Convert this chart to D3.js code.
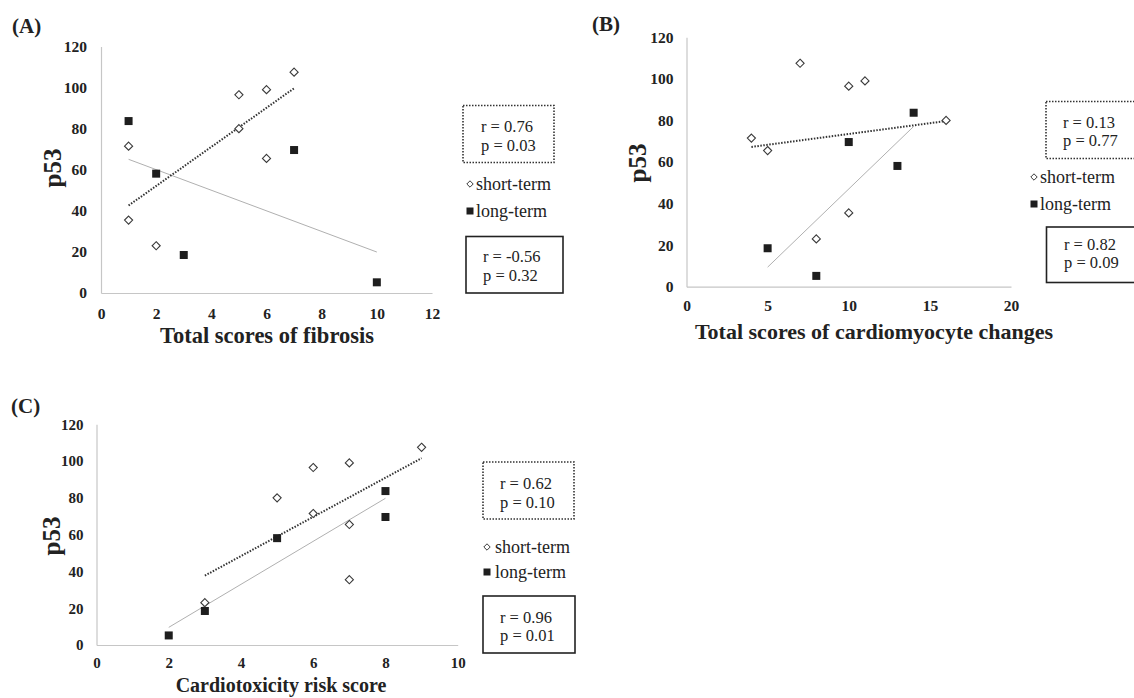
<!DOCTYPE html>
<html>
<head>
<meta charset="utf-8">
<script src="https://cdn.jsdelivr.net/npm/d3@7"></script>
<style>
  body { margin: 0; background: #fff; }
  svg { display: block; font-family: "Liberation Serif", "Times New Roman", serif; }
</style>
</head>
<body>
<svg id="chart" width="1134" height="698"></svg>
<script>
// p53 values of each sample (same samples in all three panels)
const shortP53 = [71.5, 35.5, 23, 96.5, 80, 99, 65.5, 107.5];
const longP53 = [83.7, 58.1, 18.5, 69.6, 5.2];

// x scores per panel
const shortFibrosis = [1, 1, 2, 5, 5, 6, 6, 7];
const longFibrosis = [1, 2, 3, 7, 10];
const shortCardio = [4, 10, 8, 10, 16, 11, 5, 7];
const longCardio = [14, 13, 5, 10, 8];
const shortRisk = [6, 7, 3, 6, 5, 7, 7, 9];
const longRisk = [8, 5, 3, 8, 2];

// correlation labels
const rShort = ["0.76", "0.13", "0.62"];
const pShort = ["0.03", "0.77", "0.10"];
const rLong = ["-0.56", "0.82", "0.96"];
const pLong = ["0.32", "0.09", "0.01"];

const panelNames = ["(A)", "(B)", "(C)"];
const xTitles = ["Total scores of fibrosis", "Total scores of cardiomyocyte changes", "Cardiotoxicity risk score"];
const xMax = [12, 20, 10];
const xStep = [2, 5, 2];
const yTicks = [0, 20, 40, 60, 80, 100, 120];
const legendLabels = ["short-term", "long-term"];

const svg = d3.select("#chart");

// layout of each panel (pixels)
const panels = [
  {
    xs: shortFibrosis, xl: longFibrosis,
    x0: 101, x1: 432, y0: 293, y1: 46.5,
    padX: 14.5, padY: 14, tickFont: 15.5,
    name: { x: 12, y: 33 },
    ylab: { x: 52, y: 168 },
    xlab: { x: 267, y: 343, size: 22.5 },
    dotBox: { x: 463, y: 105.5, w: 91, h: 57, tx: 481, ry: 126, py: 145 },
    leg: { mx: 470, tx: 476, ys: 184, yl: 211 },
    solBox: { x: 466, y: 236.5, w: 97, h: 56.5, tx: 483, ry: 256.5, py: 275 }
  },
  {
    xs: shortCardio, xl: longCardio,
    x0: 686.5, x1: 1011, y0: 286.7, y1: 37.3,
    padX: 13.5, padY: 13, tickFont: 15.5,
    name: { x: 592, y: 31 },
    ylab: { x: 637, y: 163 },
    xlab: { x: 874, y: 339, size: 22 },
    dotBox: { x: 1046, y: 101.5, w: 100, h: 57, tx: 1063, ry: 122.5, py: 140.5 },
    leg: { mx: 1034, tx: 1040, ys: 177, yl: 204 },
    solBox: { x: 1046.5, y: 227, w: 100, h: 55.5, tx: 1064, ry: 244, py: 262.5 }
  },
  {
    xs: shortRisk, xl: longRisk,
    x0: 96.5, x1: 457.7, y0: 645, y1: 424.3,
    padX: 12, padY: 13, tickFont: 15,
    name: { x: 11, y: 413 },
    ylab: { x: 51, y: 536 },
    xlab: { x: 281, y: 692, size: 20 },
    dotBox: { x: 483, y: 462, w: 91, h: 57, tx: 500, ry: 483, py: 502 },
    leg: { mx: 487, tx: 495, ys: 547, yl: 572 },
    solBox: { x: 483, y: 596, w: 92, h: 57, tx: 500, ry: 617, py: 635 }
  }
];

const diamond = d3.symbol().type(d3.symbolDiamond2);
const textColor = "#222";

function fitLine(xs, ys) {
  const mx = d3.mean(xs), my = d3.mean(ys);
  const sxy = d3.sum(xs, (x, i) => (x - mx) * (ys[i] - my));
  const sxx = d3.sum(xs, x => (x - mx) * (x - mx));
  const b = sxy / sxx, a = my - b * mx;
  const lo = d3.min(xs), hi = d3.max(xs);
  return [[lo, a + b * lo], [hi, a + b * hi]];
}

panels.forEach((p, k) => {
  const g = svg.append("g");
  const x = d3.scaleLinear().domain([0, xMax[k]]).range([p.x0, p.x1]);
  const y = d3.scaleLinear().domain([0, 120]).range([p.y0, p.y1]);

  // axes
  const xAxis = g.append("g")
    .attr("transform", `translate(0,${p.y0})`)
    .call(d3.axisBottom(x).tickValues(d3.range(0, xMax[k] + 1, xStep[k]))
      .tickSize(0).tickPadding(p.padX));
  const yAxis = g.append("g")
    .attr("transform", `translate(${p.x0},0)`)
    .call(d3.axisLeft(y).tickValues(yTicks).tickSize(0).tickPadding(p.padY));
  [xAxis, yAxis].forEach(a => {
    a.attr("font-family", null);
    a.select(".domain").attr("stroke", "#c6c6c6").attr("stroke-width", 1.2);
    a.selectAll("text")
      .attr("font-size", p.tickFont)
      .attr("font-weight", "bold")
      .attr("fill", textColor);
  });

  // trend lines
  const line = d3.line().x(d => x(d[0])).y(d => y(d[1]));
  g.append("path")
    .attr("d", line(fitLine(p.xl, longP53)))
    .attr("fill", "none").attr("stroke", "#b0b0b0").attr("stroke-width", 1);
  g.append("path")
    .attr("d", line(fitLine(p.xs, shortP53)))
    .attr("fill", "none").attr("stroke", "#333").attr("stroke-width", 2)
    .attr("stroke-dasharray", "1.5,1.5");

  // points
  g.selectAll(".sq").data(p.xl).join("rect")
    .attr("x", (d, i) => x(d) - 4)
    .attr("y", (d, i) => y(longP53[i]) - 4)
    .attr("width", 8).attr("height", 8)
    .attr("fill", "#1e1e1e");
  g.selectAll(".dm").data(p.xs).join("path")
    .attr("d", diamond.size(42))
    .attr("transform", (d, i) => `translate(${x(d)},${y(shortP53[i])})`)
    .attr("fill", "#fff").attr("stroke", "#3a3a3a").attr("stroke-width", 1.1);

  // panel name
  g.append("text")
    .attr("x", p.name.x).attr("y", p.name.y)
    .attr("font-size", 21).attr("font-weight", "bold").attr("fill", textColor)
    .text(panelNames[k]);

  // axis titles
  g.append("text")
    .attr("transform", `translate(${p.ylab.x},${p.ylab.y}) rotate(-90)`)
    .attr("text-anchor", "middle").attr("dy", "0.35em")
    .attr("font-size", 25).attr("font-weight", "bold").attr("fill", textColor)
    .text("p53");
  g.append("text")
    .attr("x", p.xlab.x).attr("y", p.xlab.y)
    .attr("text-anchor", "middle")
    .attr("font-size", p.xlab.size).attr("font-weight", "bold").attr("fill", textColor)
    .text(xTitles[k]);

  // stat boxes
  const box = (b, dashed, r, pv) => {
    g.append("rect")
      .attr("x", b.x).attr("y", b.y).attr("width", b.w).attr("height", b.h)
      .attr("fill", "none")
      .attr("stroke", dashed ? "#333" : "#222")
      .attr("stroke-width", 1.6)
      .attr("stroke-dasharray", dashed ? "1.5,1.5" : null);
    g.append("text").attr("x", b.tx).attr("y", b.ry).attr("dy", "0.35em")
      .attr("font-size", 16.5).attr("fill", textColor).text(`r = ${r}`);
    g.append("text").attr("x", b.tx).attr("y", b.py).attr("dy", "0.35em")
      .attr("font-size", 16.5).attr("fill", textColor).text(`p = ${pv}`);
  };
  box(p.dotBox, true, rShort[k], pShort[k]);
  box(p.solBox, false, rLong[k], pLong[k]);

  // legend
  g.append("path")
    .attr("d", diamond.size(26))
    .attr("transform", `translate(${p.leg.mx},${p.leg.ys})`)
    .attr("fill", "#fff").attr("stroke", "#3a3a3a").attr("stroke-width", 1);
  g.append("rect")
    .attr("x", p.leg.mx - 3.5).attr("y", p.leg.yl - 3.5)
    .attr("width", 7).attr("height", 7).attr("fill", "#1e1e1e");
  [p.leg.ys, p.leg.yl].forEach((ly, i) => {
    g.append("text").attr("x", p.leg.tx).attr("y", ly).attr("dy", "0.33em")
      .attr("font-size", 18).attr("fill", textColor).text(legendLabels[i]);
  });
});
</script>
</body>
</html>
